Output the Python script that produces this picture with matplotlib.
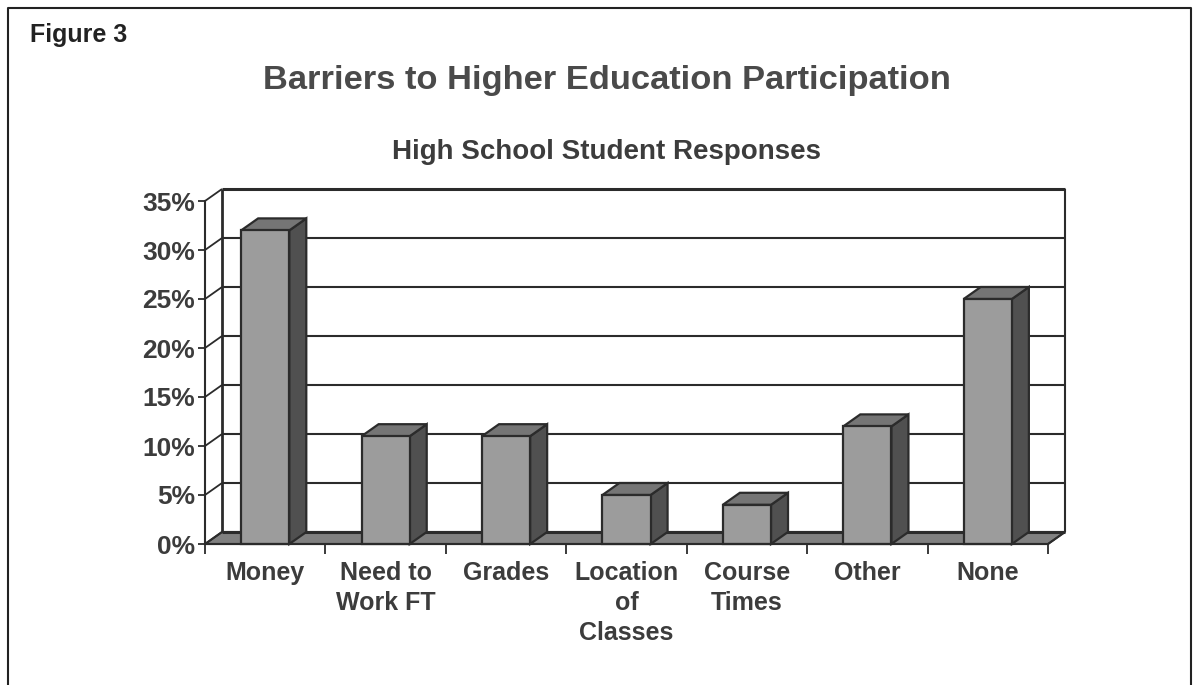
import matplotlib
matplotlib.use('Agg')
import matplotlib.pyplot as plt
from matplotlib.patches import Polygon, Rectangle

plt.rcParams['font.family'] = ['Liberation Sans', 'DejaVu Sans']
plt.rcParams['lines.solid_capstyle'] = 'butt'

# data
categories = ['Money', 'Need to\nWork FT', 'Grades', 'Location\nof\nClasses',
              'Course\nTimes', 'Other', 'None']
values = [32, 11, 11, 5, 4, 12, 25]
y_ticks = [0, 5, 10, 15, 20, 25, 30, 35]

# colours
EDGE = '#2b2b2b'
TEXT = '#3c3c3c'
FRONT = '#9c9c9c'
TOP = '#757575'
SIDE = '#505050'
FLOOR = '#808080'

W, H = 1200, 685
fig = plt.figure(figsize=(W / 100, H / 100), dpi=100, facecolor='white')

# frame around the figure, open at the bottom
frame = fig.add_axes([0, 0, 1, 1])
frame.set_xlim(0, W)
frame.set_ylim(H, 0)
frame.axis('off')
frame.plot([8, 8, 1191, 1191], [H, 8, 8, H], color='#222222', lw=1.5)

frame.text(30, 35, 'Figure 3', fontsize=18, fontweight='bold', color='#222222', va='center')
frame.text(607, 80, 'Barriers to Higher Education Participation', fontsize=24.8,
           fontweight='bold', color='#4a4a4a', ha='center', va='center')
frame.text(607, 152, 'High School Student Responses', fontsize=20,
           fontweight='bold', color='#3c3c3c', ha='center', va='center')

# axes sit on the front plane of the 3D box
ax = fig.add_axes([205 / W, (H - 544) / H, 843 / W, 343 / H])
ax.set_xlim(0, 7)
ax.set_ylim(0, 35)
ax.patch.set_alpha(0)

DX = 17 / (843 / 7)  # depth offset in category units
DY = 12 / (343 / 35)  # depth offset in percent
BAR_W = 0.40

# floor
ax.add_patch(Polygon([(0, 0), (7, 0), (7 + DX, DY), (DX, DY)], closed=True,
                     facecolor=FLOOR, edgecolor=EDGE, lw=1.5, clip_on=False, zorder=1))

# back wall grid and left wall lines
for t in y_ticks:
    lw = 2.2 if t in (0, 35) else 1.5
    ax.plot([DX, 7 + DX], [t + DY, t + DY], color=EDGE, lw=lw, clip_on=False, zorder=1.5)
    ax.plot([0, DX], [t, t + DY], color=EDGE, lw=1.3, clip_on=False, zorder=1.5)
ax.plot([DX, DX], [DY, 35 + DY], color=EDGE, lw=2, clip_on=False, zorder=1.5)
ax.plot([7 + DX, 7 + DX], [DY, 35 + DY], color=EDGE, lw=1.5, clip_on=False, zorder=1.5)
ax.plot([7, 7 + DX], [0, DY], color=EDGE, lw=1.3, clip_on=False, zorder=1.5)

# bars
for i, v in enumerate(values):
    x0 = i + 0.5 - BAR_W / 2
    x1 = i + 0.5 + BAR_W / 2
    ax.add_patch(Polygon([(x1, 0), (x1 + DX, DY), (x1 + DX, v + DY), (x1, v)], closed=True,
                         facecolor=SIDE, edgecolor=EDGE, lw=1.6, clip_on=False, zorder=3))
    ax.add_patch(Polygon([(x0, v), (x1, v), (x1 + DX, v + DY), (x0 + DX, v + DY)], closed=True,
                         facecolor=TOP, edgecolor=EDGE, lw=1.6, clip_on=False, zorder=3))
    ax.add_patch(Rectangle((x0, 0), BAR_W, v, facecolor=FRONT, edgecolor=EDGE, lw=1.6,
                           clip_on=False, zorder=4))

# axes and ticks
for s in ('top', 'right'):
    ax.spines[s].set_visible(False)
for s in ('left', 'bottom'):
    ax.spines[s].set_color(EDGE)
    ax.spines[s].set_linewidth(1.5)
    ax.spines[s].set_zorder(5)

ax.set_yticks(y_ticks)
ax.set_yticklabels([f'{t}%' for t in y_ticks], fontsize=19, fontweight='bold', color=TEXT)
ax.tick_params(axis='y', length=5, width=1.3, color=EDGE, pad=2)

ax.set_xticks(range(8))
ax.set_xticklabels([])
ax.set_xticks([i + 0.5 for i in range(7)], minor=True)
ax.set_xticklabels(categories, minor=True, fontsize=18, fontweight='bold', color=TEXT,
                   linespacing=1.32, va='top')
ax.tick_params(axis='x', which='major', length=7, width=1.3, color=EDGE)
ax.tick_params(axis='x', which='minor', length=0, pad=12)

fig.savefig('out.png', dpi=100)
